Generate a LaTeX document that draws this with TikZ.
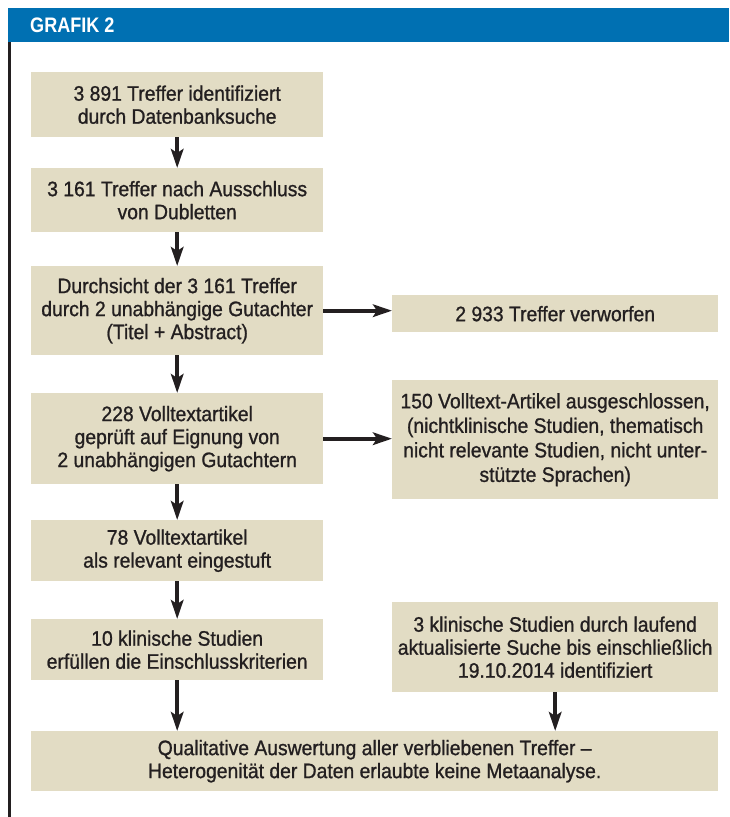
\documentclass[tikz,border=0pt]{standalone}
\usepackage{fontspec}
\setmainfont{Liberation Sans}[FakeStretch=0.92, FakeBold=1]
\newfontfamily\headfont{Liberation Sans}[FakeStretch=0.86]
\usetikzlibrary{arrows.meta}

\definecolor{headblue}{HTML}{0070B2}
\definecolor{boxfill}{HTML}{E2DCC4}
\definecolor{arrowdark}{HTML}{231F20}

\tikzset{
    box/.style={fill=boxfill, align=center, inner sep=0pt, anchor=north west,
                font=\fontsize{21}{23}\selectfont, text=arrowdark},
    leftbox/.style={box, minimum width=292, minimum height=#1},
    rightbox/.style={box, minimum width=326, minimum height=#1},
    arr/.style={draw=arrowdark, line width=3.6pt, -{Stealth[length=19pt,width=12.5pt,inset=4pt]}}
}

\begin{document}
\begin{tikzpicture}[x=1pt,y=-1pt]
    \useasboundingbox (0,0) rectangle (729,817);
    \fill[headblue] (8,8) rectangle (729,42);
    \node[anchor=west, text=white, font=\headfont\bfseries\fontsize{21}{22}\selectfont, inner sep=0pt] (title) at (30,25.5) {GRAFIK 2};
    \fill[arrowdark] (8,42) rectangle (11,817);

    \node[leftbox=65] (hits)   at (31,72)  {3 891 Treffer identifiziert\\durch Datenbanksuche};
    \node[leftbox=64] (dedup)  at (31,168) {3 161 Treffer nach Ausschluss\\von Dubletten};
    \node[leftbox=89] (screen) at (31,266) {Durchsicht der 3 161 Treffer\\durch 2 unabhängige Gutachter\\(Titel + Abstract)};
    \node[leftbox=91] (full)   at (31,393) {228 Volltextartikel\\geprüft auf Eignung von\\2 unabhängigen Gutachtern};
    \node[leftbox=61] (rel)    at (31,520) {78 Volltextartikel\\als relevant eingestuft};
    \node[leftbox=61] (incl)   at (31,619) {10 klinische Studien\\erfüllen die Einschlusskriterien};

    \node[rightbox=37]  (discard) at (392,295) {2 933 Treffer verworfen};
    \node[rightbox=119, font=\fontsize{21}{24.5}\selectfont] (excl) at (392,380) {150 Volltext-Artikel ausgeschlossen,\\(nichtklinische Studien, thematisch\\nicht relevante Studien, nicht unter-\\stützte Sprachen)};
    \node[rightbox=90]  (update)  at (392,602) {3 klinische Studien durch laufend\\aktualisierte Suche bis einschließlich\\19.10.2014 identifiziert};

    \node[box, minimum width=687, minimum height=60] (final) at (31,731) {Qualitative Auswertung aller verbliebenen Treffer –\\Heterogenität der Daten erlaubte keine Metaanalyse.};

    \draw[arr] (hits) -- (dedup);
    \draw[arr] (dedup) -- (screen);
    \draw[arr] (screen) -- (full);
    \draw[arr] (full) -- (rel);
    \draw[arr] (rel) -- (incl);
    \draw[arr] (screen.east) -- (screen.east -| discard.west);
    \draw[arr] (full.east) -- (full.east -| excl.west);
    \draw[arr] (incl.south) -- (incl.south |- final.north);
    \draw[arr] (update.south) -- (update.south |- final.north);
\end{tikzpicture}
\end{document}
